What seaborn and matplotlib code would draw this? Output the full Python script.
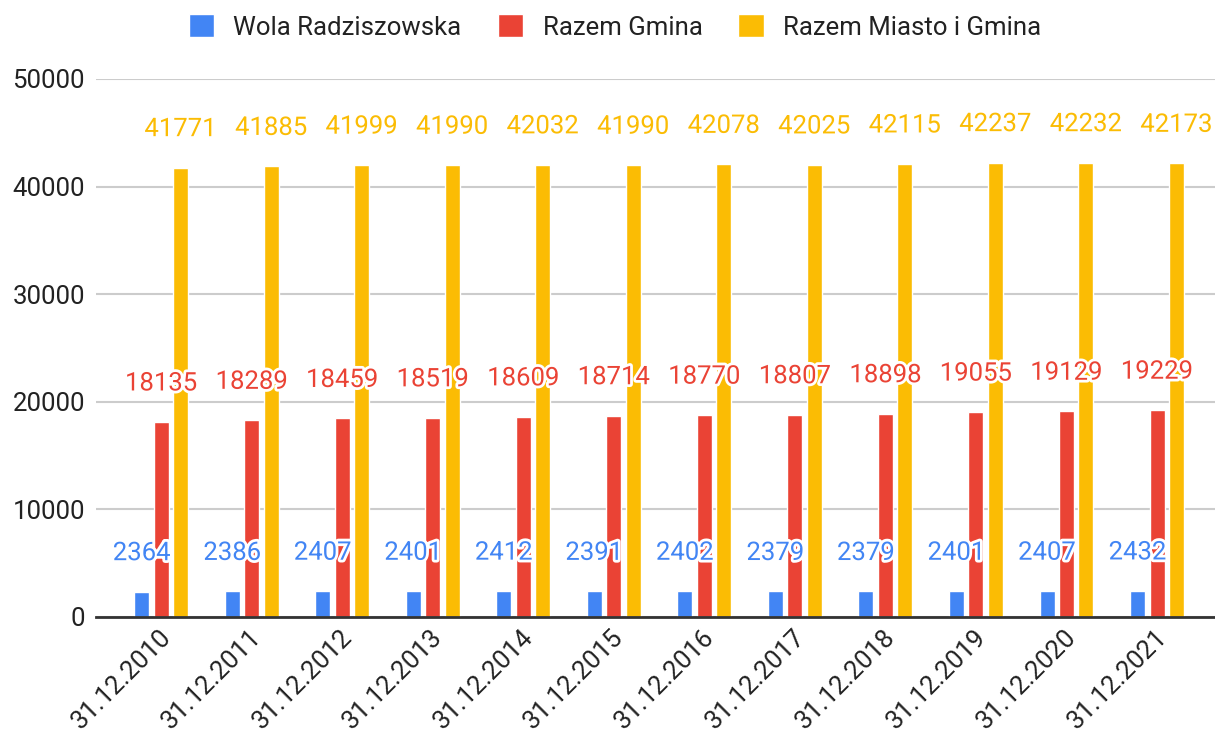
import pandas as pd
import matplotlib
matplotlib.use("Agg")
import matplotlib.pyplot as plt
import matplotlib.patheffects as pe
import matplotlib.transforms as mtransforms
import seaborn as sns

dates = ['31.12.2010', '31.12.2011', '31.12.2012', '31.12.2013', '31.12.2014', '31.12.2015',
         '31.12.2016', '31.12.2017', '31.12.2018', '31.12.2019', '31.12.2020', '31.12.2021']
wola = [2364, 2386, 2407, 2401, 2412, 2391, 2402, 2379, 2379, 2401, 2407, 2432]
gmina = [18135, 18289, 18459, 18519, 18609, 18714, 18770, 18807, 18898, 19055, 19129, 19229]
miasto_gmina = [41771, 41885, 41999, 41990, 42032, 41990, 42078, 42025, 42115, 42237, 42232, 42173]

series = ['Wola Radziszowska', 'Razem Gmina', 'Razem Miasto i Gmina']
colors = ['#4285F4', '#EA4335', '#FBBC04']

df = pd.DataFrame({'data': dates, 'Wola Radziszowska': wola,
                   'Razem Gmina': gmina, 'Razem Miasto i Gmina': miasto_gmina})
df_long = df.melt(id_vars='data', var_name='seria', value_name='wartosc')

sns.set_theme(style='white')
plt.rcParams['font.family'] = ['Roboto', 'DejaVu Sans']

fig = plt.figure(figsize=(12.15, 7.34), dpi=100)
ax = fig.add_axes([96 / 1215, 1 - 617 / 734, 1 - 96 / 1215, (617 - 79) / 734])

sns.barplot(data=df_long, x='data', y='wartosc', hue='seria', hue_order=series,
            palette=colors, width=0.645, gap=0.23, saturation=1, ax=ax, legend=True)

for cont, col in zip(ax.containers, colors):
    labels = ax.bar_label(cont, padding=19, color=col, fontsize=18.5)
    for t in labels:
        t.set_path_effects([pe.withStroke(linewidth=4, foreground='white')])

ax.set_ylim(0, 50000)
ax.set_xlim(-0.72, 11.64)
ax.set_yticks(range(0, 50001, 10000))
ax.yaxis.grid(True, color='#cccccc', linewidth=1.5)
ax.set_axisbelow(True)
for s in ['top', 'right', 'left']:
    ax.spines[s].set_visible(False)
ax.spines['bottom'].set_color('#333333')
ax.spines['bottom'].set_linewidth(2)
ax.set_xlabel('')
ax.set_ylabel('')
ax.tick_params(axis='both', length=0, labelsize=18.5, colors='#222222')
ax.tick_params(axis='y', pad=8)
ax.tick_params(axis='x', pad=12)
shift = mtransforms.ScaledTranslation(6 / 100, 0, fig.dpi_scale_trans)
for t in ax.get_xticklabels():
    t.set_rotation(45)
    t.set_ha('right')
    t.set_va('center')
    t.set_rotation_mode('anchor')
    t.set_transform(t.get_transform() + shift)

handles, lbls = ax.get_legend_handles_labels()
ax.get_legend().remove()
fig.legend(handles, lbls, loc='center', bbox_to_anchor=(615 / 1215, 1 - 27 / 734), ncol=3,
           frameon=False, fontsize=18.5, handlelength=1.0, handleheight=1.0,
           handletextpad=0.75, columnspacing=1.4, labelcolor='#222222')

fig.savefig('out.png', dpi=100)
